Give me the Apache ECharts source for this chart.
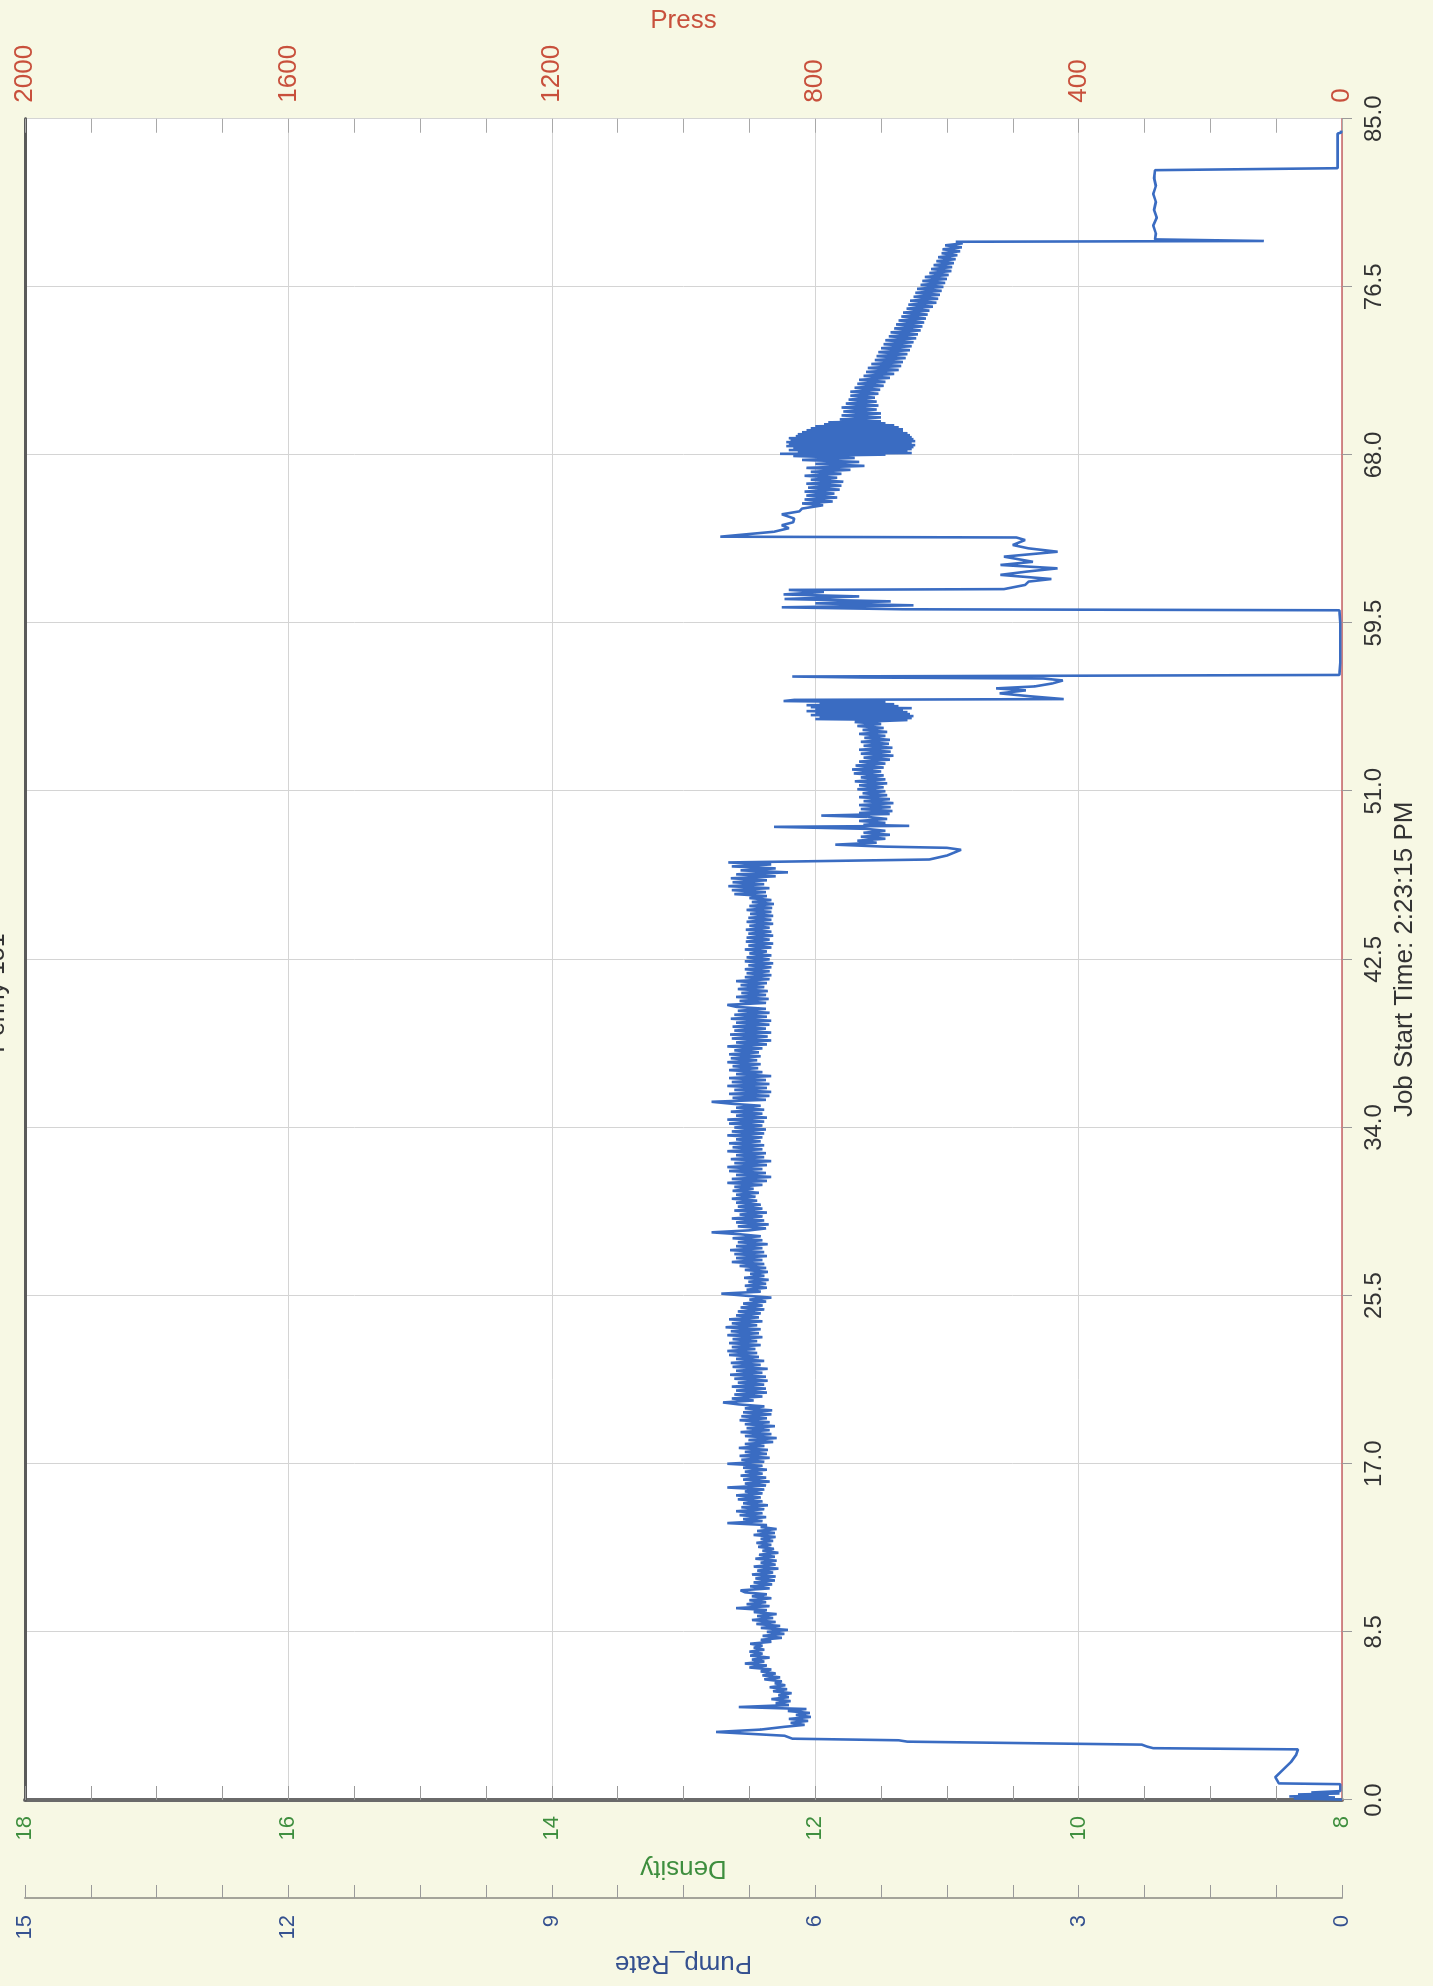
<!DOCTYPE html>
<html>
<head>
<meta charset="utf-8">
<script src="https://cdn.jsdelivr.net/npm/echarts@6/dist/echarts.min.js"></script>
<style>
  html, body { margin: 0; padding: 0; width: 1433px; height: 1986px; overflow: hidden; background: #f7f8e4; }
  #chart { position: absolute; left: 0; top: 0; width: 1986px; height: 1433px;
           transform-origin: 0 0; transform: translate(0px, 1986px) rotate(-90deg); }
</style>
</head>
<body>
<div id="chart"></div>
<script>
// ---- axis ticks ----
const timeTicks = { min: 0, max: 85, interval: 8.5 };
const densityTicks = { min: 8, max: 18, interval: 2 };
const pumpTicks = { min: 0, max: 15, interval: 3 };
const pressTicks = { min: 0, max: 2000, interval: 400 };
const titleText = 'Penny 151';
const timeName = 'Job Start Time: 2:23:15 PM';

// ---- Pump_Rate readings: [minute, rate] ----
const startup = [
  [0.02, 0.0], [0.08, 0.55], [0.13, 0.08], [0.18, 0.6], [0.23, 0.15], [0.28, 0.5], [0.33, 0.03],
  [0.38, 0.35], [0.45, 0.02], [0.8, 0.02], [0.84, 0.72], [1.15, 0.76], [1.5, 0.68], [1.93, 0.58],
  [2.3, 0.52], [2.56, 0.5], [2.62, 2.15], [2.7, 2.22], [2.8, 2.28], [2.95, 4.95], [3.02, 5.05],
  [3.1, 6.26], [3.25, 6.35], [3.44, 7.13], [3.56, 6.62]
];
const mainPumping = [
  [3.7,6.35],[3.8,6.12],[3.9,6.28],[4.0,6.08],[4.1,6.3],[4.2,6.05],[4.3,6.22],[4.4,6.06],[4.5,6.31],[4.6,6.1],
  [4.7,6.87],[4.8,6.3],[4.9,6.45],[5.0,6.28],[5.1,6.5],[5.2,6.3],[5.3,6.42],[5.4,6.27],[5.5,6.48],[5.6,6.32],
  [5.7,6.52],[5.8,6.34],[5.9,6.46],[6.0,6.38],[6.1,6.58],[6.2,6.4],[6.3,6.6],[6.4,6.45],[6.5,6.62],[6.6,6.5],
  [6.7,6.75],[6.8,6.55],[6.9,6.8],[7.0,6.58],[7.1,6.72],[7.2,6.52],[7.3,6.74],[7.4,6.6],[7.5,6.75],[7.6,6.58],
  [7.7,6.7],[7.8,6.6],[7.9,6.74],[8.0,6.5],[8.1,6.62],[8.2,6.38],[8.3,6.6],[8.4,6.35],[8.5,6.55],[8.6,6.31],
  [8.7,6.62],[8.8,6.4],[8.9,6.67],[9.0,6.45],[9.1,6.72],[9.2,6.48],[9.3,6.66],[9.4,6.44],[9.5,6.7],[9.6,6.55],
  [9.7,6.9],[9.8,6.52],[9.9,6.78],[10.0,6.56],[10.1,6.75],[10.2,6.5],[10.3,6.72],[10.4,6.55],[10.5,6.8],[10.6,6.85],
  [10.7,6.52],[10.8,6.74],[10.9,6.49],[11.0,6.7],[11.1,6.46],[11.2,6.68],[11.3,6.45],[11.4,6.72],[11.5,6.48],[11.6,6.66],
  [11.7,6.42],[11.8,6.7],[11.9,6.45],[12.0,6.62],[12.1,6.44],[12.2,6.68],[12.3,6.46],[12.4,6.64],[12.5,6.42],[12.6,6.6],
  [12.7,6.47],[12.8,6.65],[12.9,6.5],[13.0,6.67],[13.1,6.48],[13.2,6.62],[13.3,6.45],[13.4,6.7],[13.5,6.46],[13.6,6.66],
  [13.7,6.44],[13.8,6.62],[13.9,6.55],[14.0,7.0],[14.1,6.6],[14.2,6.82],[14.3,6.56],[14.4,6.86],[14.5,6.6],[14.6,6.9],
  [14.7,6.58],[14.8,6.84],[14.9,6.54],[15.0,6.82],[15.1,6.6],[15.2,6.88],[15.3,6.62],[15.4,6.9],[15.5,6.6],[15.6,6.8],
  [15.7,6.58],[15.8,7.0],[15.9,6.56],[16.0,6.8],[16.1,6.52],[16.2,6.82],[16.3,6.56],[16.4,6.85],[16.5,6.6],[16.6,6.8],
  [16.7,6.55],[16.8,6.82],[16.9,6.6],[17.0,7.0],[17.1,6.58],[17.2,6.84],[17.3,6.52],[17.4,6.86],[17.5,6.55],[17.6,6.8],
  [17.7,6.54],[17.8,6.87],[17.9,6.58],[18.0,6.8],[18.1,6.48],[18.2,6.76],[18.3,6.44],[18.4,6.8],[18.5,6.5],[18.6,6.85],
  [18.7,6.52],[18.8,6.78],[18.9,6.46],[19.0,6.8],[19.1,6.52],[19.2,6.86],[19.3,6.55],[19.4,6.84],[19.5,6.5],[19.6,6.82],
  [19.7,6.49],[19.8,6.8],[19.9,6.58],[20.0,6.87],[20.1,7.05],[20.2,6.7],[20.3,6.95],[20.4,6.6],[20.5,6.92],[20.6,6.55],
  [20.7,6.9],[20.8,6.56],[20.9,6.95],[21.0,6.58],[21.1,6.88],[21.2,6.54],[21.3,6.92],[21.4,6.56],[21.5,6.97],[21.6,6.6],
  [21.7,6.9],[21.8,6.54],[21.9,6.94],[22.0,6.62],[22.1,6.96],[22.2,6.58],[22.3,6.9],[22.4,6.64],[22.5,6.98],[22.6,6.66],
  [22.7,7.0],[22.8,6.68],[22.9,6.95],[23.0,6.62],[23.1,6.98],[23.2,6.66],[23.3,6.94],[23.4,6.6],[23.5,7.0],[23.6,6.64],
  [23.7,6.96],[23.8,6.62],[23.9,7.02],[24.0,6.66],[24.1,6.95],[24.2,6.6],[24.3,6.98],[24.4,6.64],[24.5,6.9],[24.6,6.62],
  [24.7,6.88],[24.8,6.58],[24.9,6.85],[25.0,6.6],[25.1,6.82],[25.2,6.56],[25.3,6.75],[25.4,6.5],[25.5,6.8],[25.6,7.07],
  [25.7,6.62],[25.8,6.78],[25.9,6.55],[26.0,6.8],[26.1,6.56],[26.2,6.76],[26.3,6.53],[26.4,6.81],[26.5,6.58],[26.6,6.74],
  [26.7,6.54],[26.8,6.8],[26.9,6.56],[27.0,6.86],[27.1,6.58],[27.2,6.95],[27.3,6.6],[27.4,6.9],[27.5,6.55],[27.6,6.92],
  [27.7,6.58],[27.8,6.97],[27.9,6.6],[28.0,6.9],[28.1,6.54],[28.2,6.88],[28.3,6.6],[28.4,6.94],[28.5,6.62],[28.6,6.85],
  [28.7,7.18],[28.8,6.75],[28.9,6.56],[29.0,6.88],[29.1,6.53],[29.2,6.9],[29.3,6.58],[29.4,6.95],[29.5,6.6],[29.6,6.86],
  [29.7,6.55],[29.8,6.92],[29.9,6.6],[30.0,6.88],[30.1,6.62],[30.2,6.9],[30.3,6.66],[30.4,6.95],[30.5,6.68],[30.6,6.9],
  [30.7,6.64],[30.8,6.94],[30.9,6.7],[31.0,6.92],[31.1,6.6],[31.2,7.0],[31.3,6.55],[31.4,6.95],[31.5,6.5],[31.6,6.9],
  [31.7,6.56],[31.8,6.98],[31.9,6.6],[32.0,7.0],[32.1,6.55],[32.2,6.92],[32.3,6.5],[32.4,6.96],[32.5,6.58],[32.6,6.9],
  [32.7,6.56],[32.8,7.0],[32.9,6.6],[33.0,6.94],[33.1,6.58],[33.2,6.98],[33.3,6.62],[33.4,6.9],[33.5,6.6],[33.6,7.0],
  [33.7,6.58],[33.8,6.95],[33.9,6.56],[34.0,6.92],[34.1,6.6],[34.2,6.98],[34.3,6.58],[34.4,7.0],[34.5,6.55],[34.6,6.9],
  [34.7,6.6],[34.8,6.96],[34.9,6.58],[35.0,6.9],[35.1,6.62],[35.2,6.95],[35.3,7.18],[35.4,6.56],[35.5,6.94],[35.6,6.52],
  [35.7,6.98],[35.8,6.5],[35.9,6.92],[36.0,6.55],[36.1,7.0],[36.2,6.52],[36.3,6.95],[36.4,6.56],[36.5,6.98],[36.6,6.5],
  [36.7,6.9],[36.8,6.6],[36.9,6.98],[37.0,6.65],[37.1,6.94],[37.2,6.62],[37.3,7.0],[37.4,6.66],[37.5,6.96],[37.6,6.62],
  [37.7,6.98],[37.8,6.64],[37.9,6.92],[38.0,6.6],[38.1,7.0],[38.2,6.55],[38.3,6.9],[38.4,6.5],[38.5,6.95],[38.6,6.54],
  [38.7,6.97],[38.8,6.5],[38.9,6.92],[39.0,6.56],[39.1,6.94],[39.2,6.52],[39.3,6.9],[39.4,6.5],[39.5,6.96],[39.6,6.55],
  [39.7,6.92],[39.8,6.52],[39.9,6.88],[40.0,6.56],[40.1,6.9],[40.2,7.0],[40.3,6.56],[40.4,6.86],[40.5,6.53],[40.6,6.9],
  [40.7,6.56],[40.8,6.84],[40.9,6.54],[41.0,6.88],[41.1,6.58],[41.2,6.85],[41.3,6.55],[41.4,6.9],[41.5,6.52],[41.6,6.8],
  [41.7,6.5],[41.8,6.78],[41.9,6.52],[42.0,6.8],[42.1,6.5],[42.2,6.76],[42.3,6.48],[42.4,6.8],[42.5,6.52],[42.6,6.78],
  [42.7,6.5],[42.8,6.75],[42.9,6.55],[43.0,6.8],[43.1,6.5],[43.2,6.76],[43.3,6.48],[43.4,6.79],[43.5,6.52],[43.6,6.78],
  [43.7,6.48],[43.8,6.76],[43.9,6.5],[44.0,6.79],[44.1,6.52],[44.2,6.75],[44.3,6.48],[44.4,6.78],[44.5,6.5],[44.6,6.76],
  [44.7,6.48],[44.8,6.74],[44.9,6.5],[45.0,6.78],[45.1,6.49],[45.2,6.75],[45.3,6.47],[45.4,6.72],[45.5,6.5],[45.6,6.75],
  [45.7,6.55],[45.8,6.92],[45.9,6.56],[46.0,6.95],[46.1,6.52],[46.2,6.99],[46.3,6.58],[46.4,6.94],[46.5,6.55],[46.6,6.96],
  [46.7,6.45],[46.8,6.9],[46.9,6.31],[47.0,6.85],[47.1,6.45],[47.2,6.95],[47.3,6.5],[47.4,6.99],[47.5,6.99]
];
const secondStage = [
  [47.55,4.7],[47.75,4.5],[48.04,4.34],[48.14,4.5],
  [48.2,5.21],[48.3,5.77],[48.4,5.3],[48.5,5.52],[48.6,5.2],[48.7,5.48],[48.8,5.15],[48.9,5.45],[49.0,5.2],[49.1,5.42],
  [49.2,6.47],[49.25,4.93],[49.3,5.45],[49.4,5.2],[49.5,5.5],[49.6,5.18],[49.7,5.4],[49.77,5.93],[49.85,5.15],[49.9,5.5],
  [50.0,5.12],[50.1,5.48],[50.2,5.14],[50.3,5.5],[50.4,5.11],[50.5,5.45],[50.6,5.15],[50.7,5.5],[50.8,5.18],[50.9,5.46],
  [51.0,5.2],[51.1,5.52],[51.2,5.22],[51.3,5.5],[51.4,5.18],[51.5,5.55],[51.6,5.2],[51.7,5.48],[51.8,5.22],[51.9,5.56],
  [52.0,5.25],[52.1,5.58],[52.2,5.22],[52.3,5.54],[52.4,5.2],[52.5,5.5],[52.6,5.15],[52.7,5.45],[52.8,5.11],[52.9,5.48],
  [53.0,5.14],[53.1,5.5],[53.2,5.12],[53.3,5.45],[53.4,5.16],[53.5,5.48],[53.6,5.15],[53.7,5.44],[53.8,5.2],[53.9,5.5],
  [54.0,5.18],[54.1,5.46],[54.2,5.22],[54.3,5.52],[54.4,5.25],[54.5,5.55],[54.6,4.95],[54.65,6.0],[54.7,4.9],[54.75,5.95],
  [54.8,4.88],[54.85,6.05],[54.9,4.92],[54.95,6.0],[55.0,4.95],[55.05,6.1],[55.1,5.0],[55.15,6.0],[55.2,4.9],[55.25,6.05],
  [55.3,5.05],[55.35,6.1],[55.4,5.1],[55.45,5.95],[55.5,5.2],[55.56,6.36],[55.62,6.24],[55.66,3.17]
];
const shutdownRestart = [
  [55.8,3.55],[55.95,3.9],[56.1,3.6],[56.2,3.94],[56.3,3.5],[56.45,3.3],[56.6,3.18],[56.7,3.4],[56.75,5.44],
  [56.8,6.26],[56.88,0.03],[57.5,0.02],[58.5,0.02],[59.5,0.02],[60.15,0.03],[60.2,5.0],[60.3,6.38],[60.4,4.88],
  [60.5,6.0],[60.6,5.14],[60.72,6.35],[60.85,5.5],[60.95,6.36],[61.08,5.9],[61.18,6.3],[61.22,3.85],[61.43,3.61],
  [61.6,3.57],[61.73,3.31],[61.94,3.89],[62.1,3.6],[62.27,3.24],[62.44,3.89],[62.6,3.52],[62.86,3.85],[63.11,3.24],
  [63.28,3.57],[63.45,3.75],[63.7,3.61],[63.83,3.71],[63.87,7.08]
];
const displacement = [
  [64.12,6.47],[64.3,6.3],[64.45,6.38],[64.6,6.25],[64.79,6.24],[65.0,6.38],[65.15,6.18],[65.29,6.15],[65.46,5.91],
  [65.55,6.15],[65.65,5.8],[65.75,6.12],[65.85,5.75],[65.95,6.1],[66.05,5.78],[66.15,6.12],[66.25,5.72],[66.35,6.08],
  [66.45,5.7],[66.55,6.1],[66.65,5.68],[66.75,6.05],[66.85,5.75],[66.95,6.12],[67.05,5.7],[67.15,6.05],[67.25,5.6],
  [67.35,6.1],[67.45,5.44],[67.55,6.0],[67.65,5.5],[67.75,6.15],[67.85,5.55],[67.95,6.25],[68.02,5.2],[68.06,6.4],
  [68.1,4.9],[68.15,6.2],[68.2,4.95],[68.25,6.3],[68.3,4.9],[68.35,6.25],[68.4,4.88],[68.45,6.33],[68.5,4.86],
  [68.55,6.3],[68.6,4.9],[68.65,6.33],[68.7,4.86],[68.75,6.28],[68.8,4.88],[68.85,6.3],[68.9,4.9],[68.95,6.22],
  [69.0,4.92],[69.05,6.2],[69.1,4.95],[69.15,6.15],[69.2,5.0],[69.25,6.1],[69.3,5.0],[69.35,6.05],[69.4,5.05],
  [69.45,6.0],[69.5,5.1],[69.55,5.9],[69.6,5.2],[69.65,5.85],[69.7,5.25],[69.8,5.72],[69.9,5.25],[70.0,5.7],
  [70.1,5.25],[70.2,5.68],[70.3,5.3],[70.4,5.7],[70.5,5.28],[70.6,5.65],[70.7,5.3],[70.8,5.62],[70.9,5.32],[71.0,5.6],
  [71.1,5.28],[71.2,5.6],[71.3,5.26],[71.4,5.55],[71.5,5.22],[71.6,5.52],[71.7,5.2],[71.8,5.5],[71.9,5.15],[72.0,5.45],
  [72.1,5.1],[72.2,5.42],[72.3,5.05],[72.4,5.4],[72.5,5.02],[72.6,5.36],[72.7,5.0],[72.8,5.32],[72.9,4.97],[73.0,5.3],
  [73.1,4.95],[73.2,5.28],[73.3,4.92],[73.4,5.25],[73.5,4.9],[73.6,5.22],[73.7,4.88],[73.8,5.2],[73.9,4.85],[74.0,5.16],
  [74.1,4.83],[74.2,5.14],[74.3,4.8],[74.4,5.1],[74.5,4.78],[74.6,5.08],[74.7,4.76],[74.8,5.05],[74.9,4.74],[75.0,5.02],
  [75.1,4.72],[75.2,5.0],[75.3,4.7],[75.4,4.96],[75.5,4.66],[75.6,4.94],[75.7,4.62],[75.8,4.92],[75.9,4.6],[76.0,4.88],
  [76.1,4.58],[76.2,4.86],[76.3,4.56],[76.4,4.84],[76.5,4.54],[76.6,4.8],[76.7,4.52],[76.8,4.78],[76.9,4.5],[77.0,4.75],
  [77.1,4.48],[77.2,4.7],[77.3,4.45],[77.4,4.68],[77.5,4.44],[77.6,4.65],[77.7,4.42],[77.8,4.62],[77.9,4.4],[78.0,4.6],
  [78.1,4.38],[78.2,4.56],[78.3,4.35],[78.4,4.55],[78.5,4.33],[78.6,4.52],[78.7,4.32],[78.78,4.4]
];
const finalStage = [
  [78.82, 0.89], [78.9, 2.13], [79.2, 2.12], [79.6, 2.15], [80.0, 2.11], [80.4, 2.14], [80.8, 2.12],
  [81.2, 2.15], [81.6, 2.12], [82.0, 2.14], [82.4, 2.13], [82.5, 0.05], [83.2, 0.05], [84.25, 0.05],
  [84.3, 0.01], [84.4, 0.01]
];

const pumpRate = [].concat(startup, mainPumping, secondStage, shutdownRestart, displacement, finalStage);

const FONT = "'Liberation Sans', Arial, sans-serif";
const gridGray = '#d4d4d4';

const chart = echarts.init(document.getElementById('chart'), null, { renderer: 'canvas' });
chart.setOption({
  animation: false,
  backgroundColor: '#f7f8e4',
  textStyle: { fontFamily: FONT },
  title: {
    text: titleText, left: 'center', top: -20,
    textStyle: { fontSize: 25, fontWeight: 'normal', color: '#333', fontFamily: FONT }
  },
  grid: { left: 186, right: 112, top: 25, bottom: 91, show: true, backgroundColor: '#ffffff', borderWidth: 0 },
  xAxis: [
    {
      type: 'value', position: 'bottom', min: timeTicks.min, max: timeTicks.max, interval: timeTicks.interval,
      axisLine: { show: true, onZero: false, lineStyle: { color: '#c86464', width: 1.5 } },
      axisTick: { show: true, length: 10, lineStyle: { color: '#9a9a9a' } },
      axisLabel: { color: '#333', fontSize: 24, margin: 20, formatter: v => v.toFixed(1) },
      splitLine: { show: true, lineStyle: { color: gridGray, width: 1 } },
      name: timeName, nameLocation: 'middle', nameGap: 50,
      nameTextStyle: { fontSize: 26, color: '#333' }
    },
    {
      type: 'value', position: 'top', min: timeTicks.min, max: timeTicks.max,
      axisLine: { show: true, onZero: false, lineStyle: { color: '#5a5a5a', width: 3 } },
      axisTick: { show: false }, axisLabel: { show: false }, splitLine: { show: false }
    }
  ],
  yAxis: [
    {
      type: 'value', position: 'left', offset: 0,
      min: densityTicks.min, max: densityTicks.max, interval: densityTicks.interval,
      axisLine: { show: true, onZero: false, lineStyle: { color: '#6a6a6a', width: 4 } },
      axisTick: { show: true, inside: true, length: 14, lineStyle: { color: '#9a9a9a' } },
      minorTick: { show: true, splitNumber: 4, length: 14, lineStyle: { color: '#9a9a9a' } },
      axisLabel: { color: '#3e8e3e', fontSize: 22, margin: 16 },
      splitLine: { show: true, lineStyle: { color: gridGray, width: 1 } },
      name: 'Density', nameLocation: 'middle', nameRotate: 90, nameGap: 55,
      nameTextStyle: { fontSize: 26, color: '#3e8e3e' }
    },
    {
      type: 'value', position: 'left', offset: 98,
      min: pumpTicks.min, max: pumpTicks.max, interval: pumpTicks.interval,
      axisLine: { show: true, onZero: false, lineStyle: { color: '#a4a49a', width: 2 } },
      axisTick: { show: true, inside: true, length: 13, lineStyle: { color: '#9a9a9a' } },
      minorTick: { show: true, splitNumber: 4, length: 13, lineStyle: { color: '#9a9a9a' } },
      axisLabel: { color: '#34508f', fontSize: 22, margin: 17 },
      splitLine: { show: false },
      name: 'Pump_Rate', nameLocation: 'middle', nameRotate: 90, nameGap: 52,
      nameTextStyle: { fontSize: 26, color: '#34508f' }
    },
    {
      type: 'value', position: 'right', offset: 0,
      min: pressTicks.min, max: pressTicks.max, interval: pressTicks.interval,
      axisLine: { show: false, onZero: false },
      axisTick: { show: true, inside: true, length: 14, lineStyle: { color: '#a8a8a8' } },
      minorTick: { show: true, splitNumber: 4, length: 14, lineStyle: { color: '#a8a8a8' } },
      axisLabel: { color: '#c8503c', fontSize: 26, margin: 16, formatter: v => String(v) },
      splitLine: { show: false },
      name: 'Press', nameLocation: 'middle', nameRotate: -90, nameGap: 78,
      nameTextStyle: { fontSize: 26, color: '#c8503c' }
    }
  ],
  series: [
    {
      name: 'Pump_Rate', type: 'line', xAxisIndex: 0, yAxisIndex: 1,
      data: pumpRate, showSymbol: false, symbol: 'none',
      lineStyle: { color: '#3a6cc2', width: 2.6 }, z: 5
    }
  ]
});
</script>
</body>
</html>
